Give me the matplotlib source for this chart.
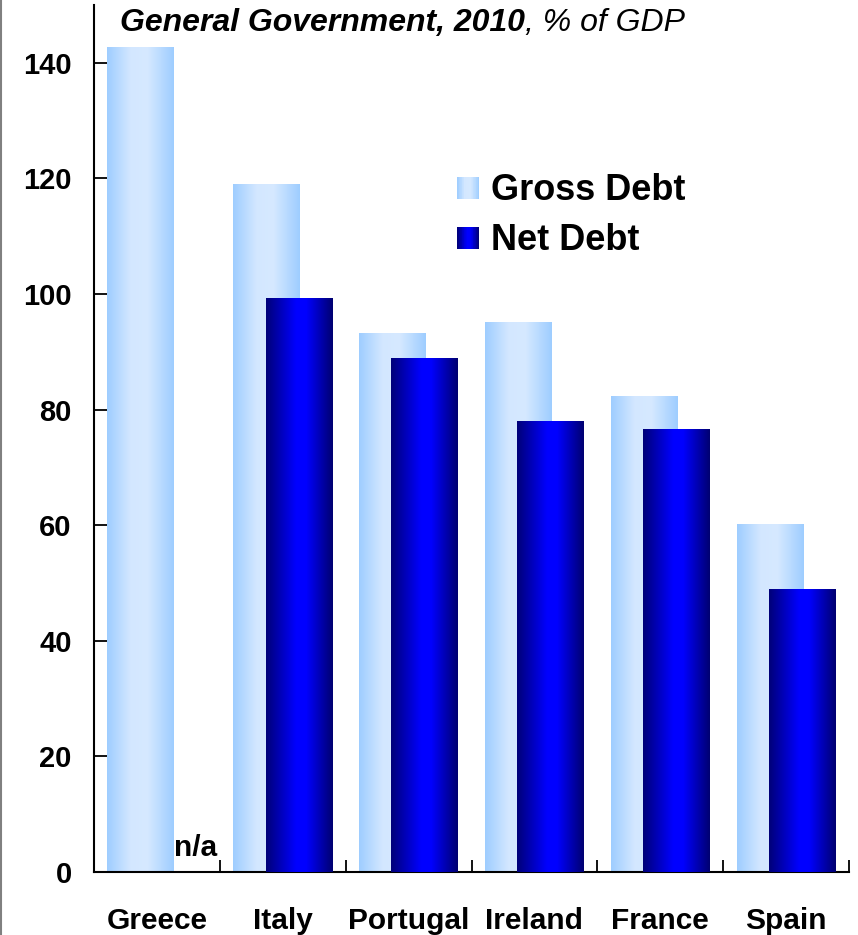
import matplotlib.pyplot as plt
import numpy as np
from matplotlib.colors import LinearSegmentedColormap
from matplotlib.legend_handler import HandlerBase
from matplotlib.patches import Rectangle, Patch
from matplotlib.lines import Line2D

plt.rcParams['font.family'] = ['Liberation Sans', 'DejaVu Sans']

countries = ["Greece", "Italy", "Portugal", "Ireland", "France", "Spain"]
gross_debt = [142.7, 118.9, 93.1, 95.0, 82.2, 60.2]
net_debt = [np.nan, 99.3, 88.8, 77.9, 76.6, 48.8]

# horizontal shading for the two series
gross_cmap = LinearSegmentedColormap.from_list(
    "gross", [(0, "#9ecdff"), (0.35, "#d3e7ff"), (0.6, "#d6e9ff"), (1, "#9ecdff")])
net_cmap = LinearSegmentedColormap.from_list(
    "net", [(0, "#000078"), (0.45, "#0000ff"), (0.6, "#0000ff"), (1, "#000070")])
grad = np.linspace(0, 1, 256).reshape(1, -1)


class GradientHandler(HandlerBase):
    def __init__(self, cmap):
        super().__init__()
        self.cmap = cmap

    def create_artists(self, legend, orig_handle, xdescent, ydescent,
                       width, height, fontsize, trans):
        n = 30
        side = width
        y0 = -ydescent + (height - side) / 2
        x0 = -xdescent
        arts = []
        for i in range(n):
            arts.append(Rectangle((x0 + side * i / n, y0), side / n * 1.05, side,
                                  facecolor=self.cmap((i + 0.5) / n),
                                  edgecolor="none", transform=trans))
        return arts


fig = plt.figure(figsize=(8.58, 9.35), dpi=100)
ax = fig.add_axes([94 / 858, 63 / 935, 755 / 858, 867 / 935])

x = np.arange(len(countries))
width = 0.53
offset = 0.128

gross_bars = ax.bar(x - offset, gross_debt, width, color="none", zorder=2)
net_bars = ax.bar(x + offset, np.nan_to_num(net_debt), width, color="none", zorder=3)

for bars, cmap, z in [(gross_bars, gross_cmap, 2), (net_bars, net_cmap, 3)]:
    for b in bars:
        if b.get_height() <= 0:
            continue
        ax.imshow(grad, cmap=cmap, aspect="auto", interpolation="bilinear",
                  extent=[b.get_x(), b.get_x() + b.get_width(), 0, b.get_height()],
                  zorder=z)

ax.text(x[0] + 0.31, 1.8, "n/a", fontsize=21.5, fontweight="bold",
        ha="center", va="bottom", zorder=4)

ax.set_xlim(-0.5, len(countries) - 0.5)
ax.set_ylim(0, 150)
ax.set_yticks(np.arange(0, 141, 20))
ax.set_xticks(x)
ax.set_xticklabels(countries, fontsize=21.5, fontweight="bold")
ax.set_xticks(np.arange(0.5, len(countries), 1), minor=True)
ax.tick_params(axis="x", which="major", length=0, pad=25)
ax.tick_params(axis="x", which="minor", direction="in", length=9, width=1.3)
ax.tick_params(axis="y", direction="in", length=10, width=1.3, pad=16)
for lab in ax.get_yticklabels():
    lab.set_fontsize(21)
    lab.set_fontweight("bold")

for side in ["top", "right"]:
    ax.spines[side].set_visible(False)
for side in ["left", "bottom"]:
    ax.spines[side].set_linewidth(1.5)

title = ax.text(0.034, 0.997, "General Government, 2010", transform=ax.transAxes,
                fontsize=23, fontweight="bold", fontstyle="italic", va="top")
ax.annotate(", % of GDP", xy=(1, 0), xycoords=title, va="bottom",
            fontsize=23, fontstyle="italic")

handles = [Patch(label="Gross Debt"), Patch(label="Net Debt")]
ax.legend(handles=handles, loc="upper left", bbox_to_anchor=(0.481, 0.806),
          frameon=False, prop={"size": 26, "weight": "bold"},
          handler_map={handles[0]: GradientHandler(gross_cmap),
                       handles[1]: GradientHandler(net_cmap)},
          handlelength=0.61, handleheight=0.7, handletextpad=0.33,
          labelspacing=0.42, borderpad=0, borderaxespad=0)

fig.add_artist(Line2D([0.001, 0.001], [0, 1], transform=fig.transFigure,
                      color="#808080", linewidth=1.5))

fig.savefig("out.png", dpi=100)
